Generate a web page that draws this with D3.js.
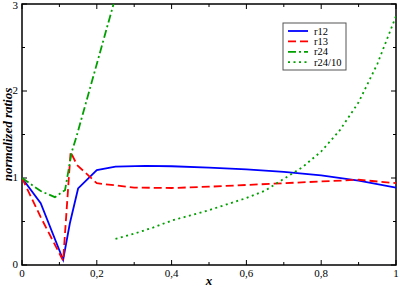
<!DOCTYPE html>
<html>
<head>
<meta charset="utf-8">
<script src="https://cdn.jsdelivr.net/npm/d3@7"></script>
<style>
  body { margin: 0; background: #fff; }
</style>
</head>
<body>
<div id="chart"></div>
<script>
const xTicks = [0, 0.2, 0.4, 0.6, 0.8, 1];
const xTickLabels = ["0", "0,2", "0,4", "0,6", "0,8", "1"];
const yTicks = [0, 1, 2, 3];

const r12 = [
  [0, 1], [0.05, 0.71], [0.11, 0.06], [0.128, 0.48], [0.15, 0.88], [0.2, 1.09],
  [0.25, 1.13], [0.33, 1.14], [0.4, 1.135], [0.5, 1.12], [0.6, 1.1],
  [0.7, 1.07], [0.8, 1.03], [0.9, 0.97], [1, 0.89]
];
const r13 = [
  [0, 1], [0.05, 0.55], [0.11, 0.05], [0.13, 1.3], [0.147, 1.15], [0.2, 0.94],
  [0.3, 0.89], [0.4, 0.885], [0.5, 0.9], [0.6, 0.92], [0.7, 0.94],
  [0.8, 0.96], [0.9, 0.98], [1, 0.94]
];
const r24 = [
  [0, 1], [0.05, 0.85], [0.088, 0.78], [0.115, 0.86], [0.133, 1.3], [0.146, 1.48],
  [0.25, 3.08]
];
const r24over10 = [
  [0.25, 0.3], [0.3, 0.36], [0.35, 0.43], [0.4, 0.51], [0.45, 0.57], [0.5, 0.63],
  [0.55, 0.7], [0.6, 0.77], [0.65, 0.855], [0.7, 0.99], [0.75, 1.125], [0.8, 1.305],
  [0.85, 1.55], [0.9, 1.87], [0.95, 2.31], [1, 2.86]
];

const series = [
  { name: "r12", data: r12, color: "#0000ff", dash: null },
  { name: "r13", data: r13, color: "#ff0000", dash: "8,4" },
  { name: "r24", data: r24, color: "#00a000", dash: "8,3,2,3" },
  { name: "r24/10", data: r24over10, color: "#00a000", dash: "2,3.5" }
];

const width = 399, height = 288;
const margin = { top: 4, right: 3, bottom: 23, left: 22 };
const serif = "'Liberation Serif', 'Times New Roman', 'DejaVu Serif', serif";

const svg = d3.select("#chart").append("svg")
  .attr("width", width)
  .attr("height", height)
  .attr("font-family", serif);

const x = d3.scaleLinear().domain([0, 1]).range([margin.left, width - margin.right]);
const y = d3.scaleLinear().domain([0, 3]).range([height - margin.bottom, margin.top]);

svg.append("defs").append("clipPath").attr("id", "plot-clip")
  .append("rect")
  .attr("x", x(0)).attr("y", y(3))
  .attr("width", x(1) - x(0)).attr("height", y(0) - y(3));

// ticks, inward, on all four sides
const minorX = d3.range(0.1, 1, 0.2);
const minorY = d3.range(0.5, 3, 1);
const tickG = svg.append("g").attr("stroke", "#000").attr("stroke-width", 1);
xTicks.concat(minorX).forEach((v, i) => {
  const len = i < xTicks.length ? 5 : 3;
  tickG.append("line").attr("x1", x(v)).attr("x2", x(v)).attr("y1", y(0)).attr("y2", y(0) - len);
  tickG.append("line").attr("x1", x(v)).attr("x2", x(v)).attr("y1", y(3)).attr("y2", y(3) + len);
});
yTicks.concat(minorY).forEach((v, i) => {
  const len = i < yTicks.length ? 5 : 3;
  tickG.append("line").attr("x1", x(0)).attr("x2", x(0) + len).attr("y1", y(v)).attr("y2", y(v));
  tickG.append("line").attr("x1", x(1)).attr("x2", x(1) - len).attr("y1", y(v)).attr("y2", y(v));
});

// frame
svg.append("rect")
  .attr("x", x(0)).attr("y", y(3))
  .attr("width", x(1) - x(0)).attr("height", y(0) - y(3))
  .attr("fill", "none").attr("stroke", "#000").attr("stroke-width", 1.5);

// tick labels
svg.append("g").selectAll("text").data(xTicks).join("text")
  .attr("x", d => x(d)).attr("y", y(0) + 12)
  .attr("text-anchor", "middle").attr("font-size", 11)
  .text((d, i) => xTickLabels[i]);
svg.append("g").selectAll("text").data(yTicks).join("text")
  .attr("x", x(0) - 4).attr("y", d => Math.max(y(d) + 3, 9))
  .attr("text-anchor", "end").attr("font-size", 11)
  .text(d => d);

// axis titles
svg.append("text")
  .attr("x", (x(0) + x(1)) / 2).attr("y", height - 3)
  .attr("text-anchor", "middle").attr("font-size", 13)
  .attr("font-style", "italic").attr("font-weight", "bold")
  .text("x");
svg.append("text")
  .attr("transform", `translate(12,${(y(0) + y(3)) / 2}) rotate(-90)`)
  .attr("text-anchor", "middle").attr("font-size", 13)
  .attr("font-style", "italic").attr("font-weight", "bold")
  .text("normalized ratios");

// lines
const line = d3.line().x(d => x(d[0])).y(d => y(d[1]));
svg.append("g").attr("clip-path", "url(#plot-clip)")
  .selectAll("path").data(series).join("path")
  .attr("d", d => line(d.data))
  .attr("fill", "none")
  .attr("stroke", d => d.color)
  .attr("stroke-width", 1.8)
  .attr("stroke-dasharray", d => d.dash);

// legend
const legend = svg.append("g").attr("transform", "translate(283,23)");
legend.append("rect")
  .attr("width", 63).attr("height", 47)
  .attr("fill", "#fff").attr("stroke", "#555").attr("stroke-width", 1);
series.forEach((s, i) => {
  const ly = 8 + i * 10.4;
  legend.append("line")
    .attr("x1", 5).attr("x2", 25).attr("y1", ly).attr("y2", ly)
    .attr("stroke", s.color).attr("stroke-width", 1.8)
    .attr("stroke-dasharray", s.dash);
  legend.append("text")
    .attr("x", 31).attr("y", ly + 3.5)
    .attr("font-size", 10.5)
    .text(s.name);
});
</script>
</body>
</html>
